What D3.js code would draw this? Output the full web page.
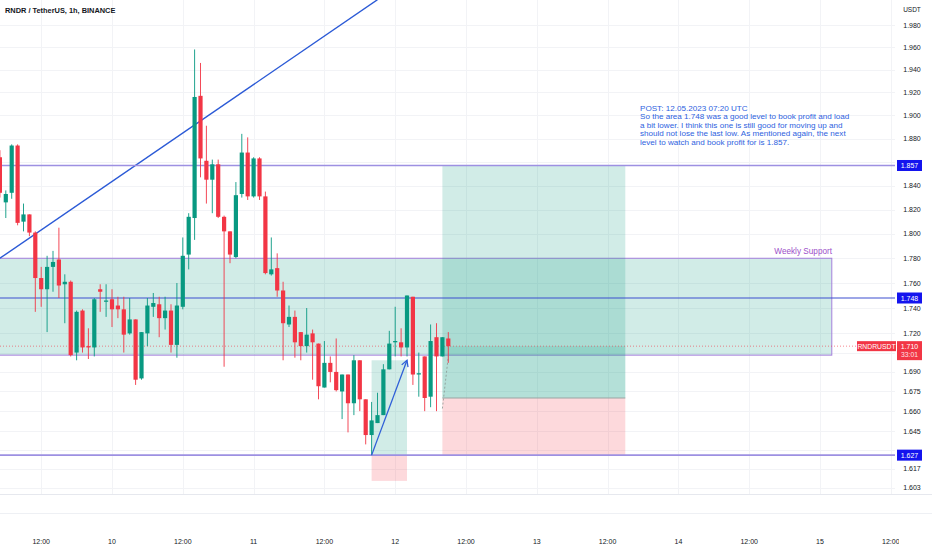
<!DOCTYPE html>
<html>
<head>
<meta charset="utf-8">
<script src="https://cdn.jsdelivr.net/npm/d3@7"></script>
<style>
	body { margin: 0; background: #fff; }
	svg { display: block; font-family: "Liberation Sans", Arial, sans-serif; }
</style>
</head>
<body>
<script>
// ---- data: 1h candles RNDR/USDT, first candle 9 May 05:00 ----
const firstCandle = Date.UTC(2023, 4, 9, 5);

const open = [
	1.864, 1.826, 1.834, 1.874, 1.810, 1.816, 1.801, 1.764, 1.755, 1.773,
	1.779, 1.759, 1.761, 1.705, 1.738, 1.710, 1.709, 1.755, 1.745, 1.747,
	1.742, 1.739, 1.720, 1.731, 1.685, 1.720, 1.741, 1.743, 1.732, 1.738,
	1.711, 1.741, 1.783, 1.813, 1.917, 1.861, 1.845, 1.858, 1.814, 1.802,
	1.781, 1.833, 1.868, 1.831, 1.863, 1.831, 1.767, 1.772, 1.754, 1.727,
	1.733, 1.721, 1.710, 1.720, 1.712, 1.678, 1.697, 1.690, 1.675, 1.688,
	1.666, 1.699, 1.669, 1.642, 1.651, 1.657, 1.692, 1.713, 1.713, 1.709,
	1.749, 1.688, 1.702, 1.671, 1.717, 1.702, 1.716
];
const high = [
	1.870, 1.836, 1.875, 1.875, 1.825, 1.816, 1.802, 1.773, 1.782, 1.786,
	1.805, 1.767, 1.762, 1.738, 1.739, 1.724, 1.748, 1.759, 1.759, 1.755,
	1.749, 1.749, 1.748, 1.731, 1.721, 1.748, 1.752, 1.749, 1.749, 1.743,
	1.760, 1.797, 1.817, 1.958, 1.946, 1.891, 1.862, 1.862, 1.815, 1.802,
	1.843, 1.884, 1.881, 1.864, 1.864, 1.835, 1.797, 1.784, 1.761, 1.742,
	1.738, 1.721, 1.740, 1.723, 1.712, 1.714, 1.702, 1.716, 1.688, 1.688,
	1.703, 1.699, 1.669, 1.667, 1.674, 1.696, 1.722, 1.741, 1.724, 1.750,
	1.749, 1.705, 1.702, 1.727, 1.728, 1.717, 1.721
];
const low = [
	1.830, 1.813, 1.829, 1.807, 1.802, 1.798, 1.737, 1.741, 1.721, 1.753,
	1.748, 1.728, 1.702, 1.699, 1.705, 1.700, 1.702, 1.737, 1.733, 1.725,
	1.732, 1.705, 1.719, 1.680, 1.684, 1.710, 1.733, 1.717, 1.723, 1.705,
	1.701, 1.739, 1.771, 1.795, 1.847, 1.825, 1.817, 1.813, 1.694, 1.776,
	1.780, 1.830, 1.828, 1.830, 1.828, 1.767, 1.766, 1.749, 1.699, 1.725,
	1.701, 1.699, 1.705, 1.684, 1.669, 1.678, 1.682, 1.675, 1.654, 1.644,
	1.657, 1.660, 1.635, 1.627, 1.651, 1.657, 1.692, 1.702, 1.702, 1.702,
	1.680, 1.671, 1.660, 1.663, 1.660, 1.702, 1.697
];
const close = [
	1.834, 1.833, 1.874, 1.809, 1.816, 1.801, 1.764, 1.755, 1.773, 1.777,
	1.758, 1.761, 1.703, 1.737, 1.709, 1.709, 1.747, 1.753, 1.746, 1.739,
	1.739, 1.719, 1.731, 1.684, 1.721, 1.742, 1.744, 1.732, 1.738, 1.711,
	1.742, 1.782, 1.814, 1.916, 1.863, 1.845, 1.858, 1.814, 1.802, 1.783,
	1.832, 1.868, 1.831, 1.863, 1.831, 1.768, 1.771, 1.754, 1.728, 1.733,
	1.713, 1.710, 1.719, 1.713, 1.679, 1.697, 1.690, 1.676, 1.688, 1.666,
	1.699, 1.669, 1.642, 1.653, 1.657, 1.692, 1.712, 1.714, 1.709, 1.750,
	1.688, 1.689, 1.670, 1.714, 1.702, 1.717, 1.710
];

// price axis: labelled ticks, plus grid-only levels hidden behind the level boxes
const priceTicks = [1.980, 1.960, 1.940, 1.920, 1.900, 1.880, 1.840, 1.820, 1.800,
	1.780, 1.760, 1.740, 1.720, 1.690, 1.675, 1.660, 1.645, 1.617, 1.603];
const hiddenTicks = [1.860, 1.705, 1.631];
// time axis (every 12h from 9 May 12:00)
const timeTickStart = Date.UTC(2023, 4, 9, 12);
const timeLabels = ["12:00", "10", "12:00", "11", "12:00", "12", "12:00", "13", "12:00", "14", "12:00", "15", "12:00"];

// drawings
const levels = [1.857, 1.748, 1.627];
const levelColors = ["#9d90e2", "#3c4fd0", "#9d90e2"];
const weeklySupport = { from: Date.UTC(2023, 4, 8, 12), to: Date.UTC(2023, 4, 15, 2), top: 1.780, bottom: 1.703 };
const trendPts = [[Date.UTC(2023, 4, 9, 5), 1.780], [Date.UTC(2023, 4, 11, 21), 2.003]];
const arrowPts = [[Date.UTC(2023, 4, 11, 20), 1.627], [Date.UTC(2023, 4, 12, 2), 1.699]];
const smallPos = { from: Date.UTC(2023, 4, 11, 20), to: Date.UTC(2023, 4, 12, 2), target: 1.699, entry: 1.627, stop: 1.608 };
const bigPos = { from: Date.UTC(2023, 4, 12, 8), to: Date.UTC(2023, 4, 13, 15), target: 1.857, entry: 1.670, stop: 1.627 };
const lastPrice = 1.710;
const postLines = [
	"POST: 12.05.2023 07:20 UTC",
	"So the area 1.748 was a good level to book profit and load",
	"a bit lower. I think this one is still good for moving up and",
	"should not lose the last low. As mentioned again, the next",
	"level to watch and book profit for is 1.857."
];

const candles = open.map((o, i) => ({
	t: new Date(firstCandle + i * 3600e3), o, h: high[i], l: low[i], c: close[i]
}));

const WIDTH = 932, HEIGHT = 550;
const PLOT_R = 895, PLOT_B = 494;
const UP = "#089981", DOWN = "#f23645";

const svg = d3.select("body").append("svg")
	.attr("width", WIDTH).attr("height", HEIGHT)
	.attr("viewBox", `0 0 ${WIDTH} ${HEIGHT}`);

const x = d3.scaleUtc()
	.domain([new Date(Date.UTC(2023, 4, 10)), new Date(Date.UTC(2023, 4, 15))])
	.range([112, 820]);
const y = d3.scaleLog().domain([1.603, 1.980]).range([487.7, 25]);

svg.append("clipPath").attr("id", "plot")
	.append("rect").attr("width", PLOT_R).attr("height", PLOT_B);
svg.append("clipPath").attr("id", "timeclip")
	.append("rect").attr("width", 899).attr("height", HEIGHT);

const plot = svg.append("g").attr("clip-path", "url(#plot)");

// ---- grid ----
const timeTicks = timeLabels.map((d, i) => new Date(timeTickStart + i * 12 * 3600e3));
plot.append("g").selectAll("line").data(timeTicks).join("line")
	.attr("x1", d => Math.round(x(d)) + 0.5).attr("x2", d => Math.round(x(d)) + 0.5)
	.attr("y1", 0).attr("y2", PLOT_B)
	.attr("stroke", "#f2f3f6");
plot.append("g").selectAll("line").data(priceTicks.concat(hiddenTicks)).join("line")
	.attr("x1", 0).attr("x2", PLOT_R)
	.attr("y1", d => Math.round(y(d)) + 0.5).attr("y2", d => Math.round(y(d)) + 0.5)
	.attr("stroke", "#f2f3f6");

// ---- weekly support zone ----
plot.append("rect")
	.attr("x", x(weeklySupport.from)).attr("y", y(weeklySupport.top))
	.attr("width", x(weeklySupport.to) - x(weeklySupport.from))
	.attr("height", y(weeklySupport.bottom) - y(weeklySupport.top))
	.attr("fill", "rgba(8,153,129,0.19)")
	.attr("stroke", "#a57fdc").attr("stroke-width", 1);

// ---- position tools ----
function position(p, current) {
	const g = plot.append("g");
	const x0 = x(p.from), w = x(p.to) - x(p.from);
	g.append("rect").attr("x", x0).attr("y", y(p.target)).attr("width", w)
		.attr("height", y(p.entry) - y(p.target)).attr("fill", "rgba(8,153,129,0.19)");
	g.append("rect").attr("x", x0).attr("y", y(p.entry)).attr("width", w)
		.attr("height", y(p.stop) - y(p.entry)).attr("fill", "rgba(242,54,69,0.19)");
	if (current) {
		g.append("rect").attr("x", x0).attr("y", y(current)).attr("width", w)
			.attr("height", y(p.entry) - y(current)).attr("fill", "rgba(8,153,129,0.14)");
		g.append("line").attr("x1", x0).attr("x2", x0 + w)
			.attr("y1", y(p.entry)).attr("y2", y(p.entry))
			.attr("stroke", "#9aa4a2").attr("stroke-width", 1);
	}
}
position(smallPos);
position(bigPos, lastPrice);

// dashed line from entry to last candle
plot.append("line")
	.attr("x1", x(bigPos.from)).attr("y1", y(1.662))
	.attr("x2", x(candles[candles.length - 1].t)).attr("y2", y(1.702))
	.attr("stroke", "#8a9590").attr("stroke-dasharray", "2,2").attr("stroke-width", 0.8);

// ---- trend line ----
plot.append("line")
	.attr("x1", x(trendPts[0][0])).attr("y1", y(trendPts[0][1]))
	.attr("x2", x(trendPts[1][0])).attr("y2", y(trendPts[1][1]))
	.attr("stroke", "#2b5ad6").attr("stroke-width", 1.4);

// ---- horizontal levels ----
plot.append("g").selectAll("line").data(levels).join("line")
	.attr("x1", 0).attr("x2", PLOT_R)
	.attr("y1", d => y(d)).attr("y2", d => y(d))
	.attr("stroke", (d, i) => levelColors[i])
	.attr("stroke-width", (d, i) => i === 1 ? 1.1 : 1.6);

// last price dotted line
plot.append("line")
	.attr("x1", 0).attr("x2", 857)
	.attr("y1", y(lastPrice)).attr("y2", y(lastPrice))
	.attr("stroke", DOWN).attr("stroke-opacity", 0.6)
	.attr("stroke-dasharray", "1,2");

// ---- candles ----
const cg = plot.append("g");
cg.selectAll("line").data(candles).join("line")
	.attr("x1", d => x(d.t)).attr("x2", d => x(d.t))
	.attr("y1", d => y(d.h)).attr("y2", d => y(d.l))
	.attr("stroke", d => d.c >= d.o ? UP : DOWN)
	.attr("stroke-width", 0.9);
cg.selectAll("rect").data(candles).join("rect")
	.attr("x", d => x(d.t) - 2.1)
	.attr("width", 4.2)
	.attr("y", d => y(Math.max(d.o, d.c)))
	.attr("height", d => Math.max(1, Math.abs(y(d.o) - y(d.c))))
	.attr("fill", d => d.c >= d.o ? UP : DOWN);

// ---- arrow ----
const ax1 = x(arrowPts[0][0]), ay1 = y(arrowPts[0][1]);
const ax2 = x(arrowPts[1][0]), ay2 = y(arrowPts[1][1]);
const ang = Math.atan2(ay2 - ay1, ax2 - ax1);
plot.append("line").attr("x1", ax1).attr("y1", ay1).attr("x2", ax2).attr("y2", ay2)
	.attr("stroke", "#2f5fd8").attr("stroke-width", 1.3);
plot.append("path")
	.attr("d", `M${ax2 - 7 * Math.cos(ang - 0.5)},${ay2 - 7 * Math.sin(ang - 0.5)}L${ax2},${ay2}L${ax2 - 7 * Math.cos(ang + 0.5)},${ay2 - 7 * Math.sin(ang + 0.5)}`)
	.attr("fill", "none").attr("stroke", "#2f5fd8").attr("stroke-width", 1.3);

// ---- texts on chart ----
svg.append("text").attr("x", 5).attr("y", 13)
	.attr("font-size", 7.4).attr("font-weight", 600).attr("fill", "#131722")
	.text("RNDR / TetherUS, 1h, BINANCE");

svg.append("text").attr("x", 832).attr("y", 254)
	.attr("text-anchor", "end").attr("font-size", 8.2).attr("fill", "#9c4fc9")
	.text("Weekly Support");

svg.append("g").selectAll("text").data(postLines).join("text")
	.attr("x", 640).attr("y", (d, i) => 111 + i * 8.4)
	.attr("font-size", 8.1).attr("fill", "#2e62e0")
	.text(d => d);

// ---- price axis ----
const pa = svg.append("g");
pa.append("text").attr("x", 912).attr("y", 12).attr("text-anchor", "middle")
	.attr("font-size", 6.5).attr("fill", "#131722").text("USDT");
pa.selectAll(".tick").data(priceTicks).join("text")
	.attr("x", 912).attr("y", d => y(d) + 2.5).attr("text-anchor", "middle")
	.attr("font-size", 7).attr("fill", "#131722")
	.text(d => d3.format(".3f")(d));

pa.selectAll(".lvl").data(levels).join("g").each(function (d) {
	const g = d3.select(this);
	g.append("rect").attr("x", 897).attr("y", y(d) - 5.5).attr("width", 25).attr("height", 11)
		.attr("fill", "#1414ee");
	g.append("text").attr("x", 909.5).attr("y", y(d) + 2.6).attr("text-anchor", "middle")
		.attr("font-size", 7).attr("fill", "#fff").text(d3.format(".3f")(d));
});

const ly = y(lastPrice);
pa.append("rect").attr("x", 857).attr("y", ly - 5).attr("width", 39).attr("height", 10)
	.attr("fill", DOWN);
pa.append("text").attr("x", 876.5).attr("y", ly + 2.5).attr("text-anchor", "middle")
	.attr("font-size", 6.8).attr("fill", "#fff").text("RNDRUSDT");
pa.append("rect").attr("x", 897).attr("y", ly - 5).attr("width", 25).attr("height", 19)
	.attr("fill", DOWN);
pa.append("text").attr("x", 909.5).attr("y", ly + 2.5).attr("text-anchor", "middle")
	.attr("font-size", 7).attr("fill", "#fff").text(d3.format(".3f")(lastPrice));
pa.append("text").attr("x", 909.5).attr("y", ly + 11).attr("text-anchor", "middle")
	.attr("font-size", 6.8).attr("fill", "#fde0e2").text("33:01");

// ---- bottom separators + time axis ----
svg.append("line").attr("x1", 0).attr("x2", WIDTH).attr("y1", 494.5).attr("y2", 494.5)
	.attr("stroke", "#e6e8ee");
svg.append("line").attr("x1", 0).attr("x2", WIDTH).attr("y1", 513.5).attr("y2", 513.5)
	.attr("stroke", "#eef0f4");

svg.append("g").attr("clip-path", "url(#timeclip)")
	.selectAll("text").data(timeTicks).join("text")
	.attr("x", d => x(d)).attr("y", 544).attr("text-anchor", "middle")
	.attr("font-size", 7).attr("fill", "#131722")
	.text((d, i) => timeLabels[i]);
</script>
</body>
</html>
